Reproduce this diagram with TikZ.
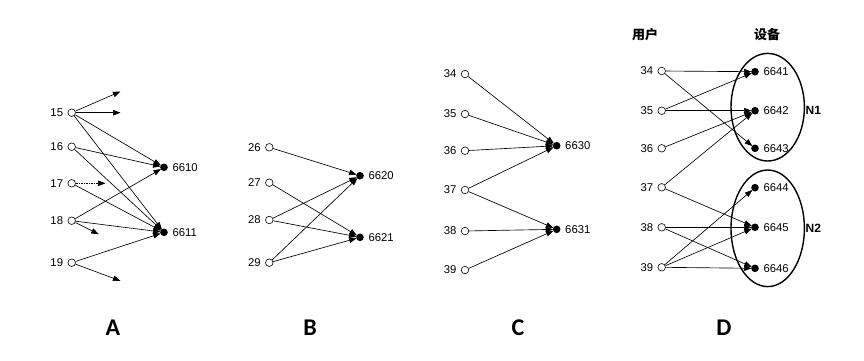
\documentclass[tikz,border=0pt]{standalone}
\usepackage{fontspec}
\setmainfont{Liberation Sans}
\newfontfamily\cjk{Noto Sans CJK SC}
\newfontfamily\capfont{Carlito}
\usetikzlibrary{arrows.meta}
\begin{document}
\begin{tikzpicture}[x=1pt,y=-1pt,
  usr/.style={circle,draw,fill=white,inner sep=0pt,minimum size=7.6pt,line width=0.6pt},
  dev/.style={circle,fill=black,inner sep=0pt,minimum size=7.6pt},
  lab/.style={font=\fontsize{11.3}{13}\selectfont},
  arr/.style={-{Triangle[length=7.5pt,width=5.5pt]},line width=0.65pt,shorten >=-0.5pt},
  panel/.style={font=\capfont\bfseries\fontsize{24}{26}\selectfont},
  grp/.style={draw,line width=1.4pt},
  head/.style={font=\cjk\bfseries\fontsize{13}{15}\selectfont}]
\useasboundingbox (0,0) rectangle (864,360);
\fill[white] (0,0) rectangle (864,360);
% ---------- A ----------
\foreach \n/\y in {15/112.7,16/146.7,17/183.3,18/220.7,19/262.7}
  \node[usr,label={[lab,label distance=1pt]left:\n}] (a\n) at (71.7,\y) {};
\node[dev,label={[lab,label distance=1pt]right:6610}] (a6610) at (164,167.3) {};
\node[dev,label={[lab,label distance=1pt]right:6611}] (a6611) at (164,232.3) {};
\coordinate (fa1) at (120,91.7);
\coordinate (fa2) at (120,112.7);
\coordinate (fa3) at (105,183.3);
\coordinate (fa4) at (98.3,234);
\coordinate (fa5) at (120,280.7);
\draw[arr] (a15) -- (fa1);
\draw[arr] (a15) -- (fa2);
\draw[arr,densely dotted] (a17) -- (fa3);
\draw[arr] (a18) -- (fa4);
\draw[arr] (a19) -- (fa5);
\foreach \s/\t in {15/6610,15/6611,16/6610,16/6611,17/6611,18/6610,18/6611,19/6611}
  \draw[arr] (a\s) -- (a\t);
\node[panel] (pA) at (113,328) {A};
% ---------- B ----------
\foreach \n/\y in {26/147.3,27/182.7,28/220,29/262.7}
  \node[usr,label={[lab,label distance=1pt]left:\n}] (b\n) at (269.3,\y) {};
\node[dev,label={[lab,label distance=1pt]right:6620}] (b6620) at (360,175.7) {};
\node[dev,label={[lab,label distance=1pt]right:6621}] (b6621) at (360,237.3) {};
\foreach \s/\t in {26/6620,27/6621,28/6620,28/6621,29/6620,29/6621}
  \draw[arr] (b\s) -- (b\t);
\node[panel] (pB) at (310,328) {B};
% ---------- C ----------
\foreach \n/\y in {34/74,35/114,36/150.7,37/190,38/231,39/270}
  \node[usr,label={[lab,label distance=1pt]left:\n}] (c\n) at (465,\y) {};
\node[dev,label={[lab,label distance=1pt]right:6630}] (c6630) at (556.7,145.7) {};
\node[dev,label={[lab,label distance=1pt]right:6631}] (c6631) at (556.7,229.3) {};
\foreach \s/\t in {34/6630,35/6630,36/6630,37/6630,37/6631,38/6631,39/6631}
  \draw[arr] (c\s) -- (c\t);
\node[panel] (pC) at (518,328) {C};
% ---------- D ----------
\node[head] (hu) at (645,35) {用户};
\node[head] (hd) at (767,35) {设备};
\draw[grp] (767.7,107.2) ellipse [x radius=36.7, y radius=53.8];
\draw[grp] (767.7,228.3) ellipse [x radius=36.7, y radius=58.3];
\node[font=\bfseries\fontsize{12}{14}\selectfont] (n1) at (813.3,110) {N1};
\node[font=\bfseries\fontsize{12}{14}\selectfont] (n2) at (813.3,228.3) {N2};
\foreach \n/\y in {34/71,35/110.7,36/148.3,37/187.3,38/227.3,39/267.3}
  \node[usr,label={[lab,label distance=1pt]left:\n}] (d\n) at (661.7,\y) {};
\foreach \n/\y in {6641/71.7,6642/110.7,6643/148.3,6644/187.7,6645/227.3,6646/268.3}
  \node[dev,label={[lab,label distance=1pt]right:\n}] (d\n) at (755,\y) {};
\foreach \s/\t in {34/6641,34/6643,35/6641,35/6642,36/6642,37/6642,37/6645,38/6645,38/6646,39/6644,39/6645,39/6646}
  \draw[arr] (d\s) -- (d\t);
\node[panel] (pD) at (724,328) {D};
\end{tikzpicture}
\end{document}
